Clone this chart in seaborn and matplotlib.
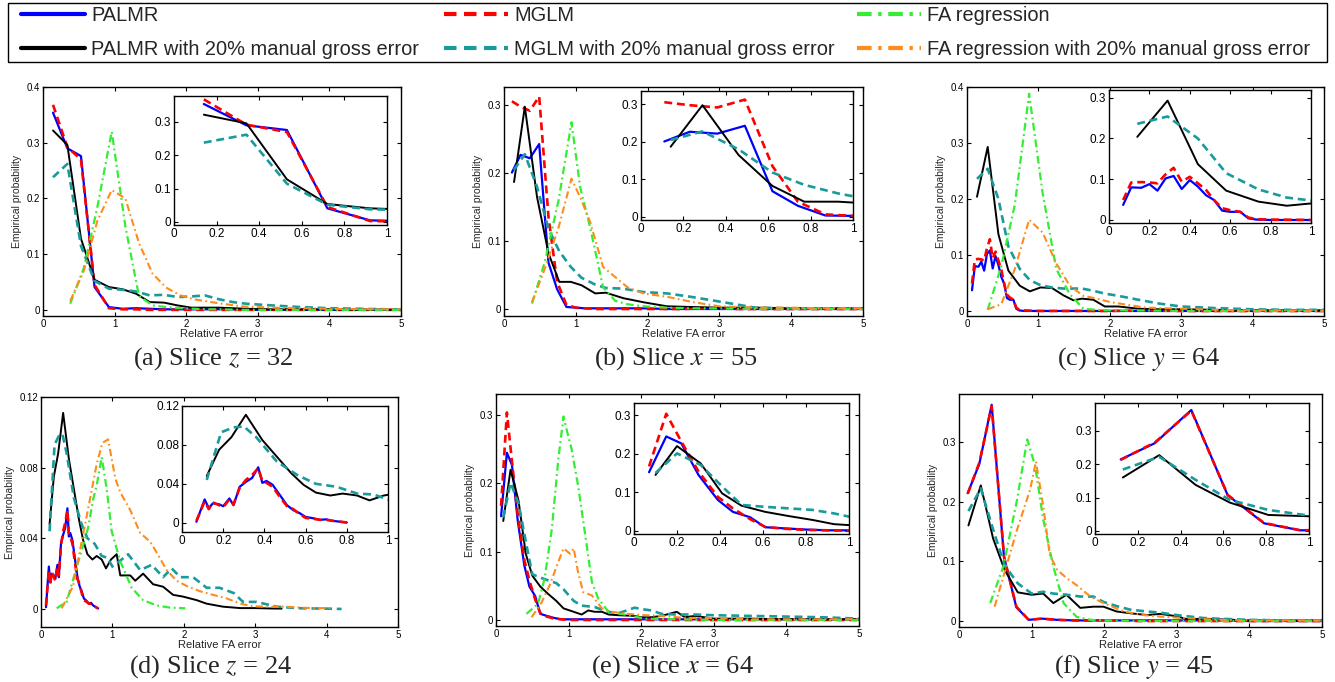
import matplotlib
matplotlib.use("Agg")
import matplotlib.pyplot as plt
import seaborn as sns
from matplotlib.lines import Line2D
from matplotlib.patches import Rectangle
from matplotlib.ticker import FormatStrFormatter

# ---------------- data ----------------
labels = ["PALMR", "PALMR with 20% manual gross error", "MGLM",
          "MGLM with 20% manual gross error", "FA regression",
          "FA regression with 20% manual gross error"]
captions = [r"(a) Slice $z$ = 32", r"(b) Slice $x$ = 55", r"(c) Slice $y$ = 64",
            r"(d) Slice $z$ = 24", r"(e) Slice $x$ = 64", r"(f) Slice $y$ = 45"]

# panel (a)
a_x = [0.14, 0.34, 0.53, 0.72, 0.92, 1.11, 1.30, 1.49, 1.69, 1.88, 2.07, 2.26, 2.46, 2.65, 2.84, 3.20, 3.60, 4.00, 4.40, 4.80, 5.00]
a_palmr = [0.354, 0.290, 0.276, 0.041, 0.005, 0.002, 0.003, 0.002, 0.001, 0.001, 0.001, 0.001, 0.001, 0.001, 0.000, 0.000, 0.000, 0.000, 0.000, 0.000, 0.000]
a_mglm = [0.368, 0.292, 0.270, 0.045, 0.003, 0.001, 0.001, 0.000, 0.000, 0.000, 0.000, 0.000, 0.000, 0.000, 0.000, 0.000, 0.000, 0.000, 0.000, 0.000, 0.000]
a_palmr_err = [0.322, 0.296, 0.128, 0.054, 0.041, 0.037, 0.029, 0.014, 0.013, 0.008, 0.004, 0.004, 0.004, 0.003, 0.002, 0.001, 0.001, 0.001, 0.000, 0.000, 0.000]
a_mglm_err = [0.238, 0.262, 0.115, 0.052, 0.038, 0.036, 0.033, 0.026, 0.027, 0.023, 0.024, 0.026, 0.019, 0.014, 0.011, 0.008, 0.005, 0.003, 0.002, 0.001, 0.001]
a_xfa = [0.38, 0.57, 0.76, 0.96, 1.15, 1.34, 1.53, 1.72, 1.92, 2.11, 2.30, 2.50, 2.80, 3.20, 3.60, 4.00, 4.50, 5.00]
a_fa = [0.011, 0.075, 0.185, 0.320, 0.150, 0.025, 0.008, 0.005, 0.003, 0.002, 0.001, 0.001, 0.000, 0.000, 0.000, 0.000, 0.000, 0.000]
a_fa_err = [0.016, 0.070, 0.160, 0.215, 0.200, 0.120, 0.065, 0.040, 0.026, 0.019, 0.015, 0.011, 0.006, 0.004, 0.003, 0.002, 0.001, 0.001]

# panel (b)
b_x = [0.11, 0.23, 0.36, 0.49, 0.62, 0.74, 0.87, 1.00, 1.13, 1.27, 1.42, 1.60, 1.80, 2.00, 2.25, 2.50, 2.75, 3.00, 3.25, 3.50, 4.00, 4.50, 5.00]
b_palmr = [0.201, 0.227, 0.222, 0.243, 0.068, 0.029, 0.003, 0.002, 0.001, 0.001, 0.001, 0.001, 0.001, 0.001, 0.000, 0.000, 0.000, 0.000, 0.000, 0.000, 0.000, 0.000, 0.000]
b_mglm = [0.306, 0.298, 0.292, 0.313, 0.135, 0.040, 0.006, 0.002, 0.001, 0.000, 0.000, 0.000, 0.000, 0.000, 0.000, 0.000, 0.001, 0.001, 0.000, 0.000, 0.000, 0.000, 0.000]
b_xe = [0.14, 0.29, 0.46, 0.62, 0.77, 0.93, 1.08, 1.27, 1.42, 1.66, 1.94, 2.27, 2.60, 3.00, 3.50, 4.00, 4.50, 5.00]
b_palmr_err = [0.187, 0.298, 0.165, 0.082, 0.040, 0.040, 0.035, 0.023, 0.024, 0.016, 0.010, 0.004, 0.003, 0.002, 0.002, 0.001, 0.001, 0.001]
b_mglm_err = [0.205, 0.228, 0.180, 0.118, 0.085, 0.062, 0.046, 0.036, 0.031, 0.030, 0.025, 0.023, 0.018, 0.011, 0.002, 0.001, 0.001, 0.001]
b_xfa = [0.39, 0.57, 0.76, 0.94, 1.06, 1.20, 1.38, 1.55, 1.72, 1.94, 2.27, 2.64, 3.00, 3.50, 4.00, 4.50, 5.00]
b_fa = [0.008, 0.070, 0.160, 0.275, 0.180, 0.120, 0.032, 0.012, 0.007, 0.004, 0.002, 0.001, 0.001, 0.000, 0.000, 0.000, 0.000]
b_fa_err = [0.010, 0.060, 0.120, 0.192, 0.165, 0.128, 0.062, 0.047, 0.032, 0.023, 0.018, 0.010, 0.004, 0.002, 0.002, 0.001, 0.001]

# panel (c)
c_x = [0.07, 0.11, 0.16, 0.20, 0.24, 0.28, 0.32, 0.36, 0.40, 0.44, 0.48, 0.52, 0.56, 0.60, 0.65, 0.69, 0.73, 0.80, 1.00, 1.50, 2.00, 2.50, 3.00, 3.50, 4.00, 4.50, 5.00]
c_palmr = [0.037, 0.080, 0.079, 0.088, 0.072, 0.102, 0.108, 0.076, 0.098, 0.082, 0.061, 0.049, 0.023, 0.020, 0.020, 0.004, 0.001, 0.000, 0.000, 0.000, 0.000, 0.000, 0.000, 0.000, 0.000, 0.000, 0.000]
c_mglm = [0.049, 0.092, 0.093, 0.092, 0.090, 0.112, 0.128, 0.094, 0.106, 0.090, 0.074, 0.049, 0.029, 0.024, 0.020, 0.006, 0.002, 0.001, 0.000, 0.000, 0.000, 0.001, 0.000, 0.000, 0.000, 0.000, 0.000]
c_xe = [0.14, 0.29, 0.44, 0.58, 0.74, 0.88, 1.03, 1.19, 1.35, 1.49, 1.61, 1.77, 1.93, 2.12, 2.40, 2.70, 3.00, 3.50, 4.00, 4.50, 5.00]
c_palmr_err = [0.204, 0.293, 0.137, 0.072, 0.045, 0.035, 0.042, 0.041, 0.028, 0.019, 0.022, 0.020, 0.008, 0.008, 0.004, 0.003, 0.003, 0.002, 0.001, 0.001, 0.001]
c_mglm_err = [0.236, 0.254, 0.200, 0.115, 0.075, 0.055, 0.046, 0.042, 0.040, 0.040, 0.040, 0.036, 0.031, 0.027, 0.020, 0.013, 0.008, 0.005, 0.003, 0.002, 0.002]
c_xfa = [0.29, 0.48, 0.67, 0.87, 1.06, 1.25, 1.44, 1.63, 1.82, 2.00, 2.50, 3.00, 3.50, 4.00, 4.50, 5.00]
c_fa = [0.002, 0.080, 0.190, 0.388, 0.210, 0.075, 0.030, 0.004, 0.002, 0.001, 0.001, 0.000, 0.000, 0.000, 0.000, 0.000]
c_fa_err = [0.003, 0.012, 0.075, 0.163, 0.140, 0.085, 0.045, 0.027, 0.022, 0.016, 0.006, 0.004, 0.002, 0.001, 0.001, 0.001]

# panel (d)
d_x = [0.07, 0.11, 0.13, 0.15, 0.18, 0.20, 0.23, 0.25, 0.28, 0.31, 0.34, 0.37, 0.39, 0.41, 0.44, 0.48, 0.51, 0.54, 0.57, 0.60, 0.64, 0.67, 0.70, 0.73, 0.77, 0.80]
d_palmr = [0.001, 0.024, 0.015, 0.020, 0.019, 0.017, 0.025, 0.018, 0.037, 0.042, 0.046, 0.057, 0.041, 0.043, 0.039, 0.027, 0.018, 0.013, 0.010, 0.006, 0.0045, 0.003, 0.0035, 0.002, 0.001, 0.0003]
d_mglm = [0.002, 0.022, 0.014, 0.021, 0.018, 0.016, 0.024, 0.019, 0.036, 0.044, 0.049, 0.056, 0.043, 0.041, 0.037, 0.025, 0.017, 0.014, 0.009, 0.005, 0.004, 0.003, 0.003, 0.002, 0.001, 0.0003]
d_xe = [0.12, 0.18, 0.24, 0.31, 0.39, 0.46, 0.53, 0.59, 0.65, 0.72, 0.78, 0.85, 0.91, 0.98, 1.06, 1.11, 1.25, 1.32, 1.43, 1.57, 1.71, 1.85, 1.99, 2.18, 2.32, 2.55, 2.79, 3.00, 3.20, 3.37]
d_palmr_err = [0.048, 0.075, 0.088, 0.111, 0.085, 0.068, 0.051, 0.039, 0.031, 0.028, 0.030, 0.028, 0.023, 0.028, 0.031, 0.019, 0.019, 0.016, 0.020, 0.014, 0.0126, 0.008, 0.007, 0.005, 0.003, 0.0013, 0.0005, 0.0005, 0.0003, 0.0002]
d_xe2 = [0.12, 0.19, 0.25, 0.30, 0.36, 0.46, 0.56, 0.65, 0.75, 0.85, 0.93, 1.00, 1.13, 1.22, 1.39, 1.55, 1.71, 1.83, 1.95, 2.13, 2.32, 2.50, 2.70, 2.83, 3.02, 3.30, 3.63, 4.00, 4.21]
d_mglm_err = [0.044, 0.093, 0.098, 0.099, 0.088, 0.063, 0.049, 0.040, 0.037, 0.030, 0.029, 0.024, 0.028, 0.031, 0.022, 0.025, 0.018, 0.023, 0.018, 0.018, 0.012, 0.012, 0.009, 0.004, 0.004, 0.0013, 0.0004, 0.0002, 0.0]
d_xfa = [0.22, 0.36, 0.48, 0.59, 0.66, 0.73, 0.78, 0.85, 0.92, 0.99, 1.11, 1.27, 1.43, 1.62, 1.80, 2.02]
d_fa = [0.0004, 0.004, 0.021, 0.036, 0.046, 0.062, 0.070, 0.086, 0.068, 0.044, 0.027, 0.012, 0.005, 0.002, 0.0008, 0.0004]
d_xfa2 = [0.29, 0.45, 0.55, 0.69, 0.78, 0.86, 0.94, 1.04, 1.11, 1.25, 1.39, 1.53, 1.62, 1.76, 1.90, 2.04, 2.23, 2.41, 2.60, 2.79, 2.97, 3.20, 3.40, 3.77, 4.05]
d_fa_err = [0.0004, 0.013, 0.034, 0.063, 0.082, 0.094, 0.096, 0.074, 0.066, 0.056, 0.043, 0.038, 0.032, 0.022, 0.016, 0.013, 0.010, 0.008, 0.006, 0.003, 0.0015, 0.0013, 0.0013, 0.0005, 0.0005]

# panel (e)
e_x = [0.07, 0.15, 0.22, 0.30, 0.39, 0.46, 0.54, 0.61, 0.70, 0.80, 0.90, 1.00, 1.25, 1.50, 2.00, 2.50, 3.00, 3.50, 4.00, 4.50, 5.00]
e_palmr = [0.152, 0.245, 0.227, 0.145, 0.080, 0.049, 0.035, 0.009, 0.006, 0.003, 0.001, 0.001, 0.001, 0.001, 0.001, 0.001, 0.001, 0.001, 0.001, 0.001, 0.001]
e_mglm = [0.167, 0.304, 0.232, 0.154, 0.088, 0.058, 0.030, 0.010, 0.005, 0.002, 0.001, 0.000, 0.000, 0.000, 0.000, 0.000, 0.000, 0.000, 0.000, 0.000, 0.000]
e_xe = [0.10, 0.20, 0.31, 0.41, 0.50, 0.61, 0.72, 0.83, 0.93, 1.07, 1.18, 1.27, 1.36, 1.46, 1.55, 1.69, 1.91, 2.00, 2.14, 2.28, 2.49, 2.60, 2.74, 3.00, 3.50, 4.00, 4.50, 5.00]
e_palmr_err = [0.145, 0.220, 0.175, 0.097, 0.065, 0.049, 0.038, 0.028, 0.017, 0.012, 0.008, 0.014, 0.012, 0.012, 0.008, 0.007, 0.006, 0.004, 0.004, 0.006, 0.012, 0.004, 0.006, 0.002, 0.002, 0.001, 0.001, 0.001]
e_mglm_err = [0.150, 0.201, 0.171, 0.115, 0.067, 0.062, 0.058, 0.054, 0.045, 0.028, 0.021, 0.020, 0.019, 0.015, 0.012, 0.010, 0.018, 0.016, 0.014, 0.009, 0.008, 0.008, 0.008, 0.007, 0.006, 0.005, 0.004, 0.002]
e_xfa = [0.42, 0.58, 0.67, 0.77, 0.86, 0.93, 0.97, 1.04, 1.13, 1.23, 1.32, 1.41, 1.55, 1.82, 2.05, 2.50, 3.00, 4.00, 5.00]
e_fa = [0.009, 0.024, 0.061, 0.134, 0.237, 0.298, 0.280, 0.251, 0.197, 0.124, 0.056, 0.031, 0.012, 0.007, 0.002, 0.001, 0.000, 0.000, 0.000]
e_xfa2 = [0.49, 0.63, 0.74, 0.84, 0.93, 1.02, 1.07, 1.13, 1.20, 1.32, 1.46, 1.59, 1.82, 2.05, 2.28, 2.60, 3.00, 3.50, 4.00, 5.00]
e_fa_err = [0.004, 0.026, 0.051, 0.080, 0.105, 0.097, 0.105, 0.070, 0.041, 0.036, 0.017, 0.012, 0.009, 0.007, 0.006, 0.003, 0.003, 0.001, 0.001, 0.001]

# panel (f)
f_x = [0.12, 0.28, 0.45, 0.62, 0.79, 0.96, 1.14, 1.35, 1.60, 2.00, 2.50, 3.00, 3.50, 4.00, 4.50, 5.00]
f_palmr = [0.214, 0.263, 0.362, 0.107, 0.023, 0.002, 0.004, 0.002, 0.001, 0.001, 0.001, 0.001, 0.001, 0.000, 0.000, 0.000]
f_mglm = [0.213, 0.265, 0.360, 0.108, 0.024, 0.002, 0.004, 0.002, 0.001, 0.001, 0.000, 0.000, 0.000, 0.000, 0.000, 0.000]
f_xe = [0.13, 0.30, 0.47, 0.63, 0.81, 1.00, 1.16, 1.30, 1.48, 1.67, 1.85, 1.99, 2.17, 2.36, 2.59, 2.77, 3.00, 3.14, 3.37, 3.55, 4.00, 4.50, 5.00]
f_palmr_err = [0.160, 0.227, 0.138, 0.085, 0.048, 0.044, 0.046, 0.030, 0.044, 0.022, 0.024, 0.024, 0.016, 0.013, 0.010, 0.012, 0.008, 0.003, 0.004, 0.003, 0.001, 0.001, 0.001]
f_mglm_err = [0.184, 0.222, 0.153, 0.093, 0.063, 0.046, 0.049, 0.046, 0.044, 0.041, 0.041, 0.032, 0.025, 0.019, 0.016, 0.014, 0.010, 0.008, 0.005, 0.004, 0.002, 0.001, 0.001]
f_xfa = [0.43, 0.61, 0.80, 0.94, 1.05, 1.16, 1.30, 1.44, 1.62, 1.81, 2.00, 2.50, 3.00, 4.00, 5.00]
f_fa = [0.030, 0.091, 0.203, 0.304, 0.259, 0.170, 0.091, 0.030, 0.007, 0.002, 0.001, 0.000, 0.000, 0.000, 0.000]
f_xfa2 = [0.49, 0.61, 0.80, 0.98, 1.06, 1.16, 1.25, 1.35, 1.48, 1.62, 1.81, 1.99, 2.27, 2.54, 2.82, 3.18, 3.64, 4.20, 5.00]
f_fa_err = [0.024, 0.074, 0.153, 0.220, 0.267, 0.192, 0.111, 0.086, 0.072, 0.060, 0.041, 0.030, 0.016, 0.010, 0.007, 0.0045, 0.0017, 0.001, 0.001]

main_yticks = [[0, 0.1, 0.2, 0.3, 0.4], [0, 0.1, 0.2, 0.3], [0, 0.1, 0.2, 0.3, 0.4],
               [0, 0.04, 0.08, 0.12], [0, 0.1, 0.2, 0.3], [0, 0.1, 0.2, 0.3]]
inset_yticks = [[0, 0.1, 0.2, 0.3], [0, 0.1, 0.2, 0.3], [0, 0.1, 0.2, 0.3],
                [0, 0.04, 0.08, 0.12], [0, 0.1, 0.2, 0.3], [0, 0.1, 0.2, 0.3]]
x_main_ticks = [0, 1, 2, 3, 4, 5]
x_inset_ticks = [0, 0.2, 0.4, 0.6, 0.8, 1]

# ---------------- style / layout ----------------
sns.set_theme(style="white")
plt.rcParams['font.family'] = ['Liberation Sans', 'DejaVu Sans']
plt.rcParams['mathtext.fontset'] = 'stix'
plt.rcParams['axes.edgecolor'] = 'black'
plt.rcParams['axes.linewidth'] = 1.0

W, H = 1335, 682
fig = plt.figure(figsize=(W / 100, H / 100), dpi=100)


def rect(l, t, r, b):
    return [l / W, 1 - b / H, (r - l) / W, (b - t) / H]


DASH = (0, (3, 1.8))
DASHDOT = (0, (3.5, 1.6, 0.8, 1.6))
styles = [
    dict(color='#0000ff', linewidth=1.6, linestyle='-'),      # PALMR
    dict(color='#000000', linewidth=1.4, linestyle='-'),      # PALMR err
    dict(color='#ff0000', linewidth=1.9, linestyle=DASH),     # MGLM
    dict(color='#1a9b9b', linewidth=1.9, linestyle=DASH),     # MGLM err
    dict(color='#33ee33', linewidth=1.6, linestyle=DASHDOT),  # FA regression
    dict(color='#ff8c1a', linewidth=1.5, linestyle=DASHDOT),  # FA regression err
]

panels = [
    dict(main=(43, 87, 401, 316), inset=(174, 96, 387, 225), ylim=(-0.011, 0.4), iylim=(-0.009, 0.378),
         s=[(a_x, a_palmr), (a_x, a_palmr_err), (a_x, a_mglm), (a_x, a_mglm_err), (a_xfa, a_fa), (a_xfa, a_fa_err)],
         cap=(213, 359)),
    dict(main=(504, 87, 863, 316), inset=(641, 91, 853, 220), ylim=(-0.0103, 0.327), iylim=(-0.009, 0.336),
         s=[(b_x, b_palmr), (b_xe, b_palmr_err), (b_x, b_mglm), (b_xe, b_mglm_err), (b_xfa, b_fa), (b_xfa, b_fa_err)],
         cap=(676, 359)),
    dict(main=(967, 87, 1324, 316), inset=(1109, 90, 1311, 223), ylim=(-0.009, 0.4), iylim=(-0.0074, 0.319),
         s=[(c_x, c_palmr), (c_xe, c_palmr_err), (c_x, c_mglm), (c_xe, c_mglm_err), (c_xfa, c_fa), (c_xfa, c_fa_err)],
         cap=(1138, 359)),
    dict(main=(41, 397, 398, 627), inset=(182, 406, 388, 532), ylim=(-0.0102, 0.12), iylim=(-0.0095, 0.12),
         s=[(d_x, d_palmr), (d_xe, d_palmr_err), (d_x, d_mglm), (d_xe2, d_mglm_err), (d_xfa, d_fa), (d_xfa2, d_fa_err)],
         cap=(210, 667)),
    dict(main=(496, 394, 859, 626), inset=(634, 403, 849, 534), ylim=(-0.0088, 0.331), iylim=(-0.0086, 0.332),
         s=[(e_x, e_palmr), (e_xe, e_palmr_err), (e_x, e_mglm), (e_xe, e_mglm_err), (e_xfa, e_fa), (e_xfa2, e_fa_err)],
         cap=(672, 667)),
    dict(main=(959, 394, 1322, 627), inset=(1095, 403, 1309, 534), ylim=(-0.010, 0.38), iylim=(-0.009, 0.383),
         s=[(f_x, f_palmr), (f_xe, f_palmr_err), (f_x, f_mglm), (f_xe, f_mglm_err), (f_xfa, f_fa), (f_xfa2, f_fa_err)],
         cap=(1134, 667)),
]

draw_order = [0, 2, 1, 3, 4, 5]


def style_axes(ax, labelsize):
    ax.tick_params(direction='in', length=3, width=0.8, top=True, right=True,
                   bottom=True, left=True, labelsize=labelsize, pad=2, colors='black')
    for sp in ax.spines.values():
        sp.set_visible(True)
        sp.set_color('black')
        sp.set_linewidth(1.0)
    ax.yaxis.set_major_formatter(FormatStrFormatter('%g'))
    ax.xaxis.set_major_formatter(FormatStrFormatter('%g'))


for i, p in enumerate(panels):
    ax = fig.add_axes(rect(*p['main']))
    for k in draw_order:
        x, y = p['s'][k]
        sns.lineplot(x=x, y=y, ax=ax, errorbar=None, legend=False, **styles[k])
    ax.set_xlim(0, 5)
    ax.set_ylim(*p['ylim'])
    ax.set_xticks(x_main_ticks)
    ax.set_yticks(main_yticks[i])
    style_axes(ax, 7)
    ax.set_xlabel("Relative FA error", fontsize=8, labelpad=0)
    ax.set_ylabel("Empirical probability", fontsize=7.5, labelpad=3.5)

    ins = fig.add_axes(rect(*p['inset']))
    ins.set_facecolor('white')
    for k in [0, 2, 1, 3]:
        x, y = p['s'][k]
        sns.lineplot(x=x, y=y, ax=ins, errorbar=None, legend=False, **styles[k])
    ins.set_xlim(0, 1)
    ins.set_ylim(*p['iylim'])
    ins.set_xticks(x_inset_ticks)
    ins.set_yticks(inset_yticks[i])
    style_axes(ins, 8.5)
    ins.set_xlabel("")
    ins.set_ylabel("")

    cx, cy = p['cap']
    fig.text(cx / W, 1 - cy / H, captions[i], ha='center', va='center',
             family='Liberation Serif', fontsize=19)

# legend: three single-column legends at the reference column positions, one frame
handles = [Line2D([], [], color=styles[k]['color'], linestyle=styles[k]['linestyle'],
                  linewidth=3.0) for k in range(6)]
col_left = [21, 444, 857]
for c in range(3):
    fig.legend(handles[2 * c:2 * c + 2], labels[2 * c:2 * c + 2], loc='upper left',
               bbox_to_anchor=(col_left[c] / W, 1 - 6 / H), ncol=1, fontsize=14.4,
               frameon=False, borderpad=0, labelspacing=0.75, handlelength=3.2,
               handletextpad=0.3, borderaxespad=0)
fig.add_artist(Rectangle((8 / W, 1 - 62 / H), 1319 / W, 59 / H, transform=fig.transFigure,
                         fill=False, edgecolor='black', linewidth=1.0))

fig.savefig("out.png", dpi=100)
